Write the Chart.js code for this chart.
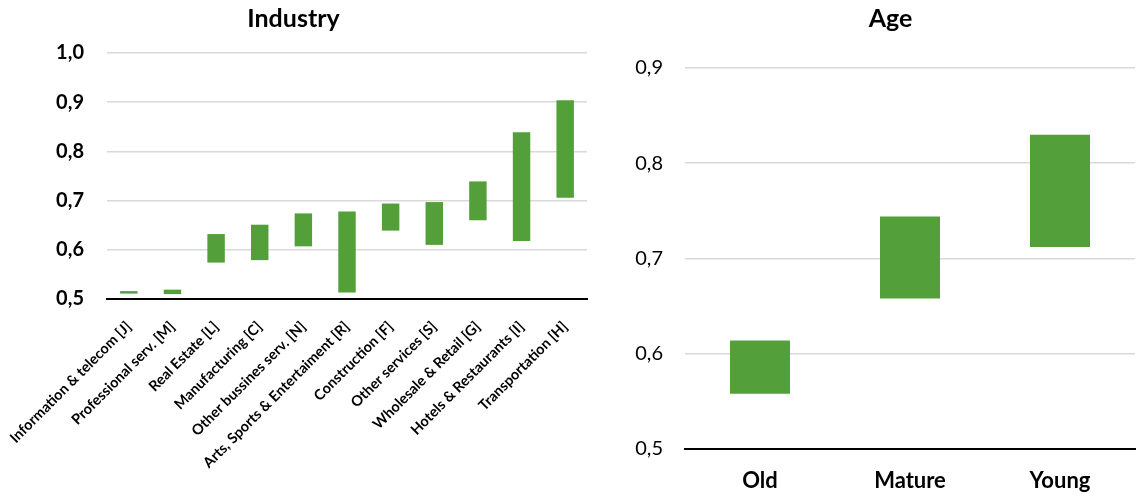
<!DOCTYPE html>
<html>
<head>
<meta charset="utf-8">
<script src="https://cdn.jsdelivr.net/npm/chart.js@4.4.0/dist/chart.umd.min.js"></script>
<style>
  body { margin: 0; background: #fff; width: 1137px; height: 495px; position: relative; overflow: hidden; }
  .box { position: absolute; top: 0; height: 495px; }
  #industryBox { left: 0; width: 600px; }
  #ageBox { left: 611px; width: 526px; }
</style>
</head>
<body>
<div id="industryBox" class="box"><canvas id="industryChart"></canvas></div>
<div id="ageBox" class="box"><canvas id="ageChart"></canvas></div>
<script>
// industry ranges (low / high)
var industryLabels = ['Information & telecom [J]', 'Professional serv. [M]', 'Real Estate [L]', 'Manufacturing [C]',
  'Other bussines serv. [N]', 'Arts, Sports & Entertaiment [R]', 'Construction [F]', 'Other services [S]',
  'Wholesale & Retail [G]', 'Hotels & Restaurants [I]', 'Transportation [H]'];
var industryLow = [0.511, 0.510, 0.574, 0.579, 0.607, 0.513, 0.639, 0.610, 0.660, 0.618, 0.706];
var industryHigh = [0.516, 0.519, 0.632, 0.651, 0.674, 0.678, 0.694, 0.697, 0.739, 0.839, 0.904];
var industryTicks = [0.5, 0.6, 0.7, 0.8, 0.9, 1.0];

// age ranges
var ageLabels = ['Old', 'Mature', 'Young'];
var ageLow = [0.558, 0.658, 0.712];
var ageHigh = [0.614, 0.744, 0.830];
var ageTicks = [0.5, 0.6, 0.7, 0.8, 0.9];

var green = '#53A03A';
var gridGray = '#d9d9d9';

function comma(v) {
  return v.toFixed(1).replace('.', ',');
}

function ranges(lo, hi) {
  var out = [];
  for (var i = 0; i < lo.length; i++) {
    out.push([lo[i], hi[i]]);
  }
  return out;
}

// nudges the title sideways after layout (title centres over the whole box otherwise)
function titleShift(dx) {
  return {
    id: 'titleShift',
    afterLayout: function(chart) {
      if (chart.titleBlock && dx) {
        chart.titleBlock.left += 2 * dx;
      }
    }
  };
}

function makeChart(id, cfg) {
  var ctx = document.getElementById(id).getContext('2d');
  return new Chart(ctx, {
    type: 'bar',
    data: {
      labels: cfg.labels,
      datasets: [{
        data: ranges(cfg.low, cfg.high),
        backgroundColor: green,
        borderWidth: 0,
        barPercentage: 0.4,
        categoryPercentage: 1
      }]
    },
    plugins: [titleShift(cfg.titleShift)],
    options: {
      responsive: true,
      maintainAspectRatio: false,
      animation: false,
      layout: { padding: cfg.padding },
      plugins: {
        legend: { display: false },
        tooltip: { enabled: false },
        title: {
          display: true,
          text: cfg.title,
          color: '#000',
          font: { family: 'Lato', size: 25, weight: 'bold' },
          padding: cfg.titlePadding
        }
      },
      scales: {
        x: {
          grid: { display: false },
          border: { color: '#000', width: 2 },
          ticks: {
            color: '#000',
            font: cfg.xFont,
            autoSkip: false,
            minRotation: cfg.rotation,
            maxRotation: cfg.rotation,
            padding: cfg.xPadding
          },
          afterFit: function(scale) {
            scale.height = cfg.xHeight;
            // rotated labels may hang past the plot, don't let them push it
            scale.paddingLeft = 0;
            scale.paddingRight = 0;
          }
        },
        y: {
          min: cfg.ticks[0],
          max: cfg.ticks[cfg.ticks.length - 1],
          afterBuildTicks: function(scale) {
            scale.ticks = cfg.ticks.map(function(v) { return { value: v }; });
          },
          grid: {
            drawTicks: false,
            lineWidth: 1.5,
            color: function(c) { return c.tick && c.tick.value === cfg.ticks[0] ? 'rgba(0,0,0,0)' : gridGray; }
          },
          border: { display: false },
          ticks: {
            color: '#000',
            font: cfg.yFont,
            padding: cfg.yPadding,
            callback: function(v) { return comma(v); }
          },
          afterFit: function(scale) { scale.width = cfg.yWidth; }
        }
      }
    }
  });
}

makeChart('industryChart', {
  labels: industryLabels,
  low: industryLow,
  high: industryHigh,
  ticks: industryTicks,
  title: 'Industry',
  titlePadding: { top: 4, bottom: 19 },
  titleShift: 0,
  padding: { left: 0, right: 13, top: 0, bottom: 0 },
  xFont: { family: 'Lato', size: 14.5, weight: 'bold' },
  yFont: { family: 'Lato', size: 20, weight: 'bold' },
  rotation: 45,
  xPadding: 11,
  xHeight: 196,
  yPadding: 23,
  yWidth: 107
});

makeChart('ageChart', {
  labels: ageLabels,
  low: ageLow,
  high: ageHigh,
  ticks: ageTicks,
  title: 'Age',
  titlePadding: { top: 4, bottom: 34 },
  titleShift: 7,
  padding: { left: 21, right: 2, top: 0, bottom: 0 },
  xFont: { family: 'Lato', size: 22, weight: 'bold' },
  yFont: { family: 'Lato', size: 20 },
  rotation: 0,
  xPadding: 11,
  xHeight: 46,
  yPadding: 22,
  yWidth: 53
});
</script>
</body>
</html>
